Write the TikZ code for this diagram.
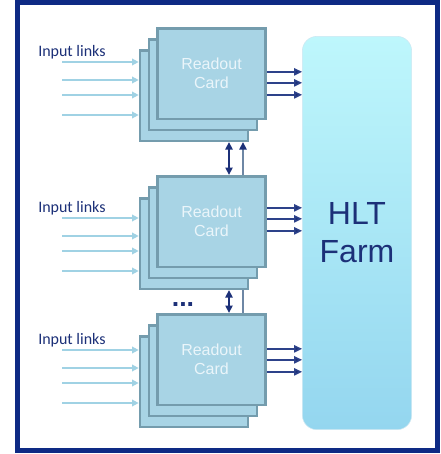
\documentclass[tikz,border=0pt]{standalone}
\usepackage{fontspec}
\setmainfont{Liberation Sans}
\newfontfamily\linkfont{Carlito}
\usepackage{xcolor}
\usepackage{tikz}
\usetikzlibrary{arrows.meta,calc}

\definecolor{framecol}{RGB}{14,42,132}
\definecolor{navy}{RGB}{28,48,120}
\definecolor{cardfill}{RGB}{168,212,229}
\definecolor{cardline}{RGB}{116,156,173}
\definecolor{cardtext}{RGB}{234,245,250}
\definecolor{inlinecol}{RGB}{160,210,228}
\definecolor{outlinecol}{RGB}{45,66,138}
\definecolor{buscol}{RGB}{110,135,165}
\definecolor{hlttop}{RGB}{190,247,252}
\definecolor{hltbot}{RGB}{148,214,239}
\definecolor{hltline}{RGB}{205,232,242}

\begin{document}
\begin{tikzpicture}[x=0.75pt,y=-0.75pt,
card/.style={draw=cardline,fill=cardfill,line width=2pt,minimum width=81pt,minimum height=68pt,inner sep=0pt},
cardlabel/.style={text=cardtext,align=center,font=\fontsize{12}{14.25}\selectfont},
inlink/.style={draw=inlinecol,line width=1.1pt,-{Triangle[length=5pt,width=5pt]}},
inlabel/.style={anchor=west,text=navy,font=\linkfont\fontsize{12}{14}\selectfont,inner sep=0pt},
outlink/.style={draw=outlinecol,line width=1.1pt,-{Triangle[length=6pt,width=5.5pt,fill=navy]}},
bus/.style={draw=navy,line width=1.1pt},
busgray/.style={draw=buscol,line width=1.1pt},
hlt/.style={draw=hltline,rounded corners=11pt,top color=hlttop,bottom color=hltbot,minimum width=82pt,minimum height=295pt,text=navy,align=center,font=\fontsize{24}{28.5}\selectfont}]
\fill[white](0,0)rectangle(440,454);
\draw[framecol,line width=3.75pt](17.5,2.5)rectangle(437.5,450);
\node[hlt](hlt)at(357,233){HLT\\Farm};
\foreach \g/\y/\i/\o in {1/27/35/45,2/175/43/33,3/313/37/36}{
  \node[card](back\g)at(194,\y+68.5){};
  \node[card](mid\g)at(203,\y+57.5){};
  \node[card,cardlabel](front\g)at(211.5,\y+46.5){Readout\\Card};
  \node[inlabel](lbl\g)at(38,\y+\i-10){Input links};
  \foreach \k/\d in {1/0,2/18,3/33,4/53}{
    \coordinate(in\g\k)at(62,\y+\i+\d);
    \draw[inlink](in\g\k)--(in\g\k-|back\g.west);
  }
  \foreach \k/\d in {1/0,2/11,3/23}{
    \coordinate(out\g\k)at($(front\g.north east)+(0,\o+\d)$);
    \draw[outlink](out\g\k)--(out\g\k-|hlt.west);
  }
}
\coordinate(busL)at(229,0);
\coordinate(busR)at(243,0);
\draw[bus,{Triangle[length=5.5pt,width=5.5pt]}-{Triangle[length=5.5pt,width=5.5pt]}](busL|-back1.south)--(busL|-front2.north);
\draw[busgray,-{Triangle[length=5.5pt,width=5.5pt,fill=navy,color=navy]}](busR|-front2.north)--(busR|-back1.south);
\draw[bus,{Triangle[length=5.5pt,width=5.5pt]}-{Triangle[length=5.5pt,width=5.5pt]}](busL|-back2.south)--(busL|-front3.north);
\draw[busgray](busR|-back2.south)--(busR|-front3.north);
\node[anchor=base,text=navy,font=\fontsize{20}{20}\selectfont\bfseries](more)at(183,306){...};
\end{tikzpicture}
\end{document}
